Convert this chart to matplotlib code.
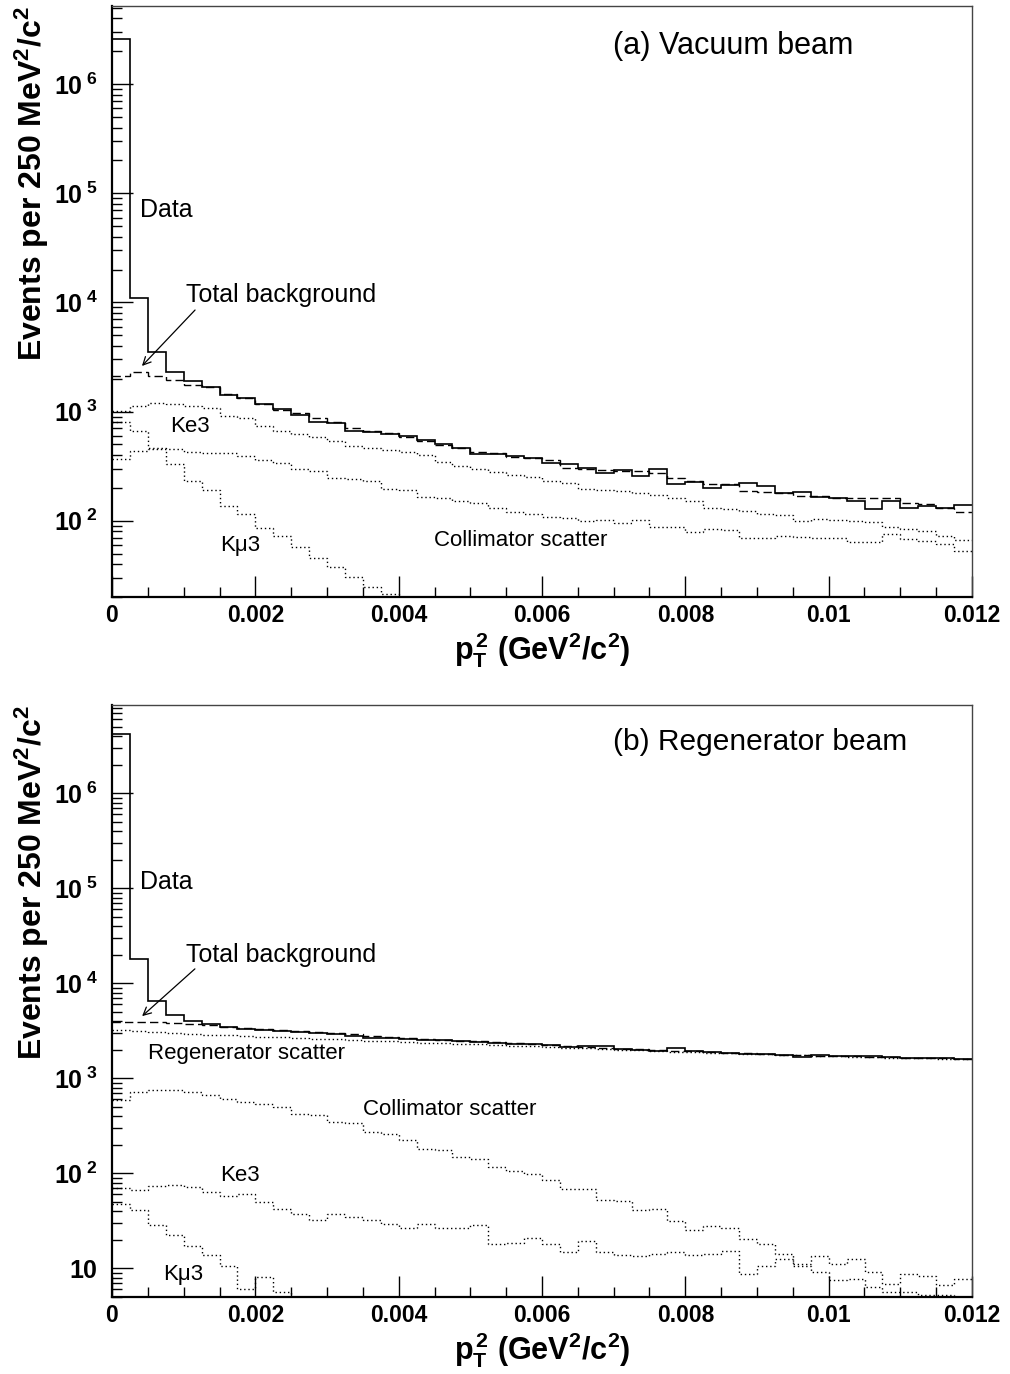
import numpy as np
import matplotlib
matplotlib.use("Agg")
import matplotlib.pyplot as plt
from matplotlib.ticker import LogLocator, FixedLocator, FuncFormatter, MultipleLocator

plt.rcParams['font.family'] = ['Liberation Sans', 'DejaVu Sans']
plt.rcParams['mathtext.fontset'] = 'custom'
plt.rcParams['mathtext.rm'] = 'Liberation Sans'
plt.rcParams['mathtext.bf'] = 'Liberation Sans:bold'
plt.rcParams['mathtext.it'] = 'Liberation Sans:italic'

# ---------------- data ----------------
bin_width = 0.00025  # GeV^2/c^2

# (a) Vacuum beam
data_a = [2.6e6, 1.1e4, 3510, 2300, 1920, 1667, 1430, 1334, 1176, 1065, 939, 806,
          788, 670, 653, 617, 592, 544, 500, 466, 405, 411,
          391, 378, 340, 328, 306, 276, 291, 256, 295, 215, 226, 201, 211, 223,
          208, 181, 183, 166, 160, 153, 129, 153, 132, 137, 132, 139]
total_a = [2130, 2285, 2100, 1960, 1765, 1691, 1460, 1342, 1183, 1043, 979, 882,
           810, 714, 657, 630, 579, 532, 489, 459, 422, 413, 380, 372, 357,
           306, 295, 291, 285, 285, 276, 248, 231, 215, 215, 187, 183, 181,
           168, 168, 163, 160, 160, 160, 146, 141, 132, 119]
ke3_a = [1006, 1135, 1200, 1184, 1135, 1081, 919, 876, 745, 670, 617, 587, 535,
         482, 466, 443, 425, 396, 344, 317, 300, 279,
         262, 250, 232, 220, 194, 191, 187, 181, 171, 163, 152, 132, 129, 123,
         115, 112, 99.6, 103, 102, 99.6, 97.5, 86.7, 83.6, 80.7, 71.8, 66.9]
coll_a = [365, 433, 456, 450, 425, 420, 413, 391, 357, 340, 300, 285, 248, 239,
          231, 194, 191, 166, 163, 152, 145, 132,
          119, 116, 109, 105, 99.6, 101, 94.9, 101, 86.7, 86.7, 78, 83.6, 82.4,
          68.8, 68.8, 71.8, 70.3, 68.8, 68.8, 63.2, 64, 75.3, 67.8, 65.4, 61, 53]
kmu3_a = [798, 661, 466, 333, 231, 191, 136, 115, 86.5, 72.6, 58, 46, 37.4,
          30.3, 24.5, 21.3, 17]

# (b) Regenerator beam
data_b = [4.25e6, 1.82e4, 6460, 4600, 4010, 3700, 3470, 3330, 3200, 3130, 3070,
          3000, 2950, 2800, 2680, 2650, 2620, 2560, 2510, 2460, 2410, 2360,
          2320, 2280, 2225, 2135, 2190, 2170, 2020, 1970, 1940, 2085, 1920,
          1890, 1846, 1820, 1820, 1775, 1675, 1775, 1705, 1705, 1705, 1675,
          1650, 1637, 1650, 1585]
total_b = [3930, 3960, 3920, 3830, 3740, 3620, 3500, 3400, 3300, 3210, 3130,
           3060, 2980, 2900, 2820, 2750, 2680, 2620, 2560, 2500, 2450, 2400,
           2350, 2290, 2240, 2190, 2150, 2110, 2060, 2020, 1990, 1960, 1930,
           1900, 1870, 1840, 1810, 1780, 1760, 1740, 1720, 1700, 1680, 1665,
           1650, 1635, 1620, 1600]
regen_b = [3200, 3180, 3080, 3000, 2940, 2880, 2830, 2790, 2750, 2700, 2660,
           2620, 2580, 2540, 2500, 2460, 2420, 2380, 2350, 2310, 2280, 2250,
           2210, 2170, 2140, 2100, 2070, 2040, 2000, 1970, 1940, 1910, 1880,
           1860, 1830, 1810, 1790, 1770, 1750, 1730, 1700, 1690, 1670, 1650,
           1640, 1620, 1600, 1585]
coll_b = [597, 718, 760, 748, 718, 662, 611, 564, 533, 499, 425, 408, 347, 339,
          272, 262, 223, 182, 178, 148, 143, 118, 106, 97.5, 84.3,
          69, 69, 52.8, 51, 41.5, 42.5, 31.5,
          25.5, 27.9, 26.6, 20.2, 18.2, 14.3, 11.2, 13.5, 11.2, 12.7, 9.1, 6.9,
          8.8, 8.4, 6.7, 7.8]
ke3_b = [70.6, 67.3, 73, 74.8, 71.8, 63.5, 57.3, 60.1, 49.9, 42.5, 37.6, 32.5,
         37.6, 34.7, 32, 29.5, 26.8, 29.5, 26.6, 26.8, 28.4, 17.9, 18.5, 21, 18.2,
         14.9, 19.2, 14.9, 13.7, 13.4, 14.3, 14.9,
         13.9, 14.3, 15.2, 8.8, 10.7, 12.7, 10.5, 9.1, 7.6, 7.8, 6.3, 5.7, 5.7,
         5.2, 5.2, 4.9]
kmu3_b = [48, 41.5, 28.4, 22.3, 17.1, 13.7, 10.5, 6.1, 8.1, 5.6, 4.0]

x_ticks = [0, 0.002, 0.004, 0.006, 0.008, 0.01, 0.012]
y_ticks_a = [1e2, 1e3, 1e4, 1e5, 1e6]
y_ticks_b = [1e1, 1e2, 1e3, 1e4, 1e5, 1e6]

# ---------------- figure ----------------
W, H = 1010, 1374
fig = plt.figure(figsize=(W / 100, H / 100), dpi=100)


def px_axes(l, t, r, b):
    return fig.add_axes([l / W, 1 - b / H, (r - l) / W, (b - t) / H])


ax_a = px_axes(112, 6, 972, 597)
ax_b = px_axes(112, 705, 972, 1297)


def edges(n):
    return np.arange(n + 1) * bin_width


def hist(ax, vals, style):
    v = np.asarray(vals, dtype=float)
    if style == 'solid':
        ax.stairs(v, edges(len(v)), baseline=None, color='black', lw=1.2)
    elif style == 'dashed':
        ax.stairs(v, edges(len(v)), baseline=None, color='black', lw=1.0,
                  linestyle=(0, (6, 3)))
    else:
        ax.stairs(v, edges(len(v)), baseline=None, color='black', lw=1.0,
                  linestyle=(0, (1, 2)))


def log_label(v, pos):
    e = int(round(np.log10(v)))
    if e == 1:
        return r'$\mathbf{10}$'
    return r'$\mathbf{10^{\ %d}}$' % e


def style_axes(ax, ymin, ymax, yticks):
    ax.set_yscale('log')
    ax.set_xlim(0, 0.012)
    ax.set_ylim(ymin, ymax)
    ax.xaxis.set_major_locator(FixedLocator(x_ticks))
    ax.xaxis.set_minor_locator(MultipleLocator(0.0005))
    ax.xaxis.set_major_formatter(FuncFormatter(lambda v, p: '%g' % v))
    ax.yaxis.set_major_locator(FixedLocator(yticks))
    ax.yaxis.set_minor_locator(LogLocator(base=10, subs=np.arange(2, 10), numticks=20))
    ax.yaxis.set_major_formatter(FuncFormatter(log_label))
    ax.yaxis.set_minor_formatter(FuncFormatter(lambda v, p: ''))
    ax.tick_params(which='both', direction='in', top=False, right=False)
    ax.tick_params(which='major', length=15, width=1.0)
    ax.tick_params(which='minor', length=7, width=1.0)
    ax.tick_params(axis='x', which='major', pad=5, labelsize=16.5)
    ax.tick_params(axis='y', which='major', pad=10, labelsize=18)
    for lab in ax.get_xticklabels():
        lab.set_fontweight('bold')
    for s in ['left', 'bottom']:
        ax.spines[s].set_linewidth(1.6)
        ax.spines[s].set_color('black')
    for s in ['top', 'right']:
        ax.spines[s].set_linewidth(1.0)
        ax.spines[s].set_color('#444444')
    ax.set_xlabel(r'$\mathbf{p_{T}^{\,2}}$ (GeV$\mathbf{^{2}}$/c$\mathbf{^{2}}$)',
                  fontsize=22, fontweight='bold')
    ax.xaxis.set_label_coords(0.5, -0.056)
    ax.xaxis.label.set_va('top')
    ax.set_ylabel(r'Events per 250 MeV$\mathbf{^{2}}$/c$\mathbf{^{2}}$',
                  fontsize=23, fontweight='bold', loc='top')
    ax.yaxis.set_label_coords(-0.071, 1.0)


# panel (a)
style_axes(ax_a, 20, 5.2e6, y_ticks_a)
hist(ax_a, data_a, 'solid')
hist(ax_a, total_a, 'dashed')
hist(ax_a, ke3_a, 'dotted')
hist(ax_a, coll_a, 'dotted')
hist(ax_a, kmu3_a, 'dotted')

T = ax_a.transAxes
ax_a.text(0.583, 0.932, '(a) Vacuum beam', transform=T, fontsize=22, va='center')
ax_a.text(0.0326, 0.655, 'Data', transform=T, fontsize=18, va='center')
ax_a.text(0.086, 0.511, 'Total background', transform=T, fontsize=18, va='center')
ax_a.text(0.0674, 0.289, 'Ke3', transform=T, fontsize=16, va='center')
ax_a.text(0.1256, 0.0863, 'Kμ3', transform=T, fontsize=16, va='center')
ax_a.text(0.3744, 0.0948, 'Collimator scatter', transform=T, fontsize=16, va='center')
ax_a.annotate('', xy=(0.0326, 0.3875), xytext=(0.0988, 0.489), xycoords=T,
              textcoords=T, arrowprops=dict(arrowstyle='->', lw=0.9, color='black',
                                            mutation_scale=14))

# panel (b)
style_axes(ax_b, 5, 8.5e6, y_ticks_b)
hist(ax_b, data_b, 'solid')
hist(ax_b, total_b, 'dashed')
hist(ax_b, regen_b, 'dotted')
hist(ax_b, coll_b, 'dotted')
hist(ax_b, ke3_b, 'dotted')
hist(ax_b, kmu3_b, 'dotted')

T = ax_b.transAxes
ax_b.text(0.583, 0.9375, '(b) Regenerator beam', transform=T, fontsize=21.5, va='center')
ax_b.text(0.0326, 0.701, 'Data', transform=T, fontsize=18, va='center')
ax_b.text(0.086, 0.578, 'Total background', transform=T, fontsize=18, va='center')
ax_b.text(0.0419, 0.4105, 'Regenerator scatter', transform=T, fontsize=16, va='center')
ax_b.text(0.2919, 0.3159, 'Collimator scatter', transform=T, fontsize=16, va='center')
ax_b.text(0.1256, 0.206, 'Ke3', transform=T, fontsize=16, va='center')
ax_b.text(0.0593, 0.0372, 'Kμ3', transform=T, fontsize=16, va='center')
ax_b.annotate('', xy=(0.0326, 0.4713), xytext=(0.0988, 0.5574), xycoords=T,
              textcoords=T, arrowprops=dict(arrowstyle='->', lw=0.9, color='black',
                                            mutation_scale=14))

fig.savefig('out.png', dpi=100)
